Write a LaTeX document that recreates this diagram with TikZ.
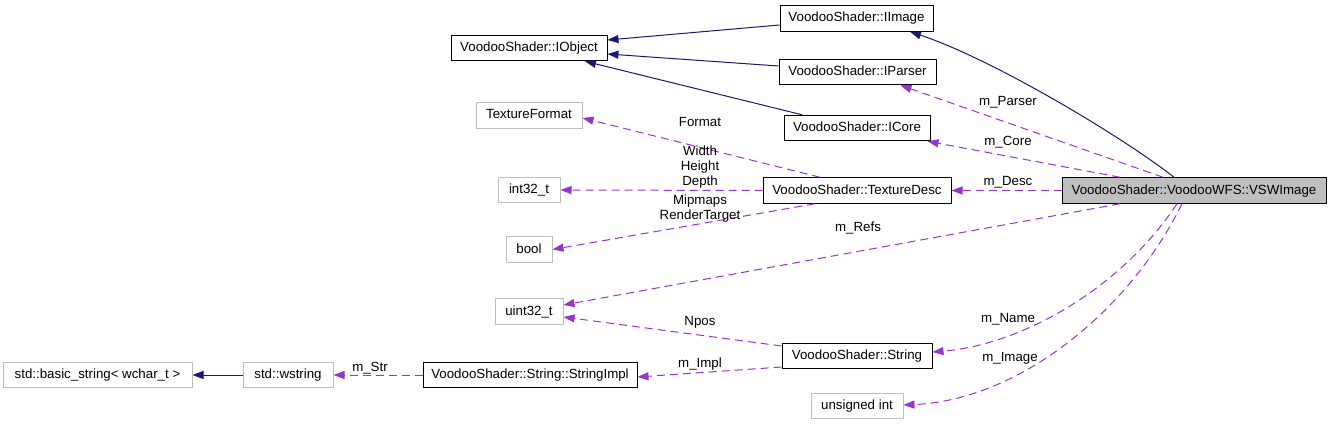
\documentclass[tikz,border=0pt]{standalone}
\usepackage{fontspec}
\setmainfont{Liberation Sans}
\usetikzlibrary{arrows.meta}
\definecolor{edgeblue}{HTML}{191970}
\definecolor{edgeviolet}{HTML}{9A32CD}
\definecolor{boxgray}{HTML}{BFBFBF}

\begin{document}
\begin{tikzpicture}[x=1pt,y=-1pt,>={Triangle[length=11pt,width=8pt]},
  font=\fontsize{13.3}{15}\selectfont,
  cls/.style={draw=black,line width=1pt,minimum height=25.5pt,inner sep=1pt,text height=10pt,text depth=3pt},
  ext/.style={cls,draw=boxgray},
  cur/.style={cls,fill=boxgray},
  inh/.style={->,edgeblue,line width=1pt},
  use/.style={->,edgeviolet,line width=1pt,dash pattern=on 8pt off 5pt},
  lbl/.style={inner sep=0pt,align=center}]
\useasboundingbox (0,0) rectangle (1331,425);
% classes
\node[cls,minimum width=153pt] (iimage) at (856.5,18.5) {VoodooShader::IImage};
\node[cls,minimum width=156pt] (iobject) at (529,48) {VoodooShader::IObject};
\node[cls,minimum width=157pt] (iparser) at (857.5,72) {VoodooShader::IParser};
\node[ext,minimum width=106pt] (texfmt) at (529,115.5) {TextureFormat};
\node[cls,minimum width=146pt] (icore) at (857,128) {VoodooShader::ICore};
\node[ext,minimum width=62pt] (int32) at (529,190) {int32\_t};
\node[cls,minimum width=188pt] (texdesc) at (857,190.5) {VoodooShader::TextureDesc};
\node[cur,minimum width=264pt] (vsw) at (1194,190.5) {VoodooShader::VoodooWFS::VSWImage};
\node[ext,minimum width=46pt] (bool) at (529,249.5) {bool};
\node[ext,minimum width=68pt] (uint32) at (529,311.5) {uint32\_t};
\node[cls,minimum width=150pt] (string) at (857,356) {VoodooShader::String};
\node[ext,minimum width=189pt] (bstr) at (97.5,375) {std::basic\_string< wchar\_t >};
\node[ext,minimum width=90pt] (wstr) at (288,375) {std::wstring};
\node[cls,minimum width=214pt] (strimpl) at (530,375) {VoodooShader::String::StringImpl};
\node[ext,minimum width=92pt] (uint) at (857,406) {unsigned int};
% inheritance
\draw[inh] ([yshift=-6.5pt]iimage.west) -- ([yshift=8pt]iobject.east);
\draw[inh] ([yshift=6pt]iparser.west) -- ([yshift=-6pt]iobject.east);
\draw[inh] ([xshift=-55pt]icore.north) -- ([xshift=56pt]iobject.south);
\draw[inh] ([xshift=-20pt]vsw.north) .. controls (1120,135) and (990,58) .. ([xshift=53.5pt]iimage.south);
\draw[inh] (wstr.west) -- (bstr.east);
% members
\draw[use] ([xshift=-31pt]vsw.north) -- ([xshift=43pt]iparser.south);
\draw[use] ([xshift=-74pt]vsw.north) -- ([xshift=-3pt]icore.south east);
\draw[use] (vsw.west) -- (texdesc.east);
\draw[use] ([xshift=-74pt]vsw.south) -- ([yshift=6.5pt]uint32.east);
\draw[use] ([xshift=-17pt]vsw.south) .. controls (1120,290) and (1020,345) .. ([yshift=4pt]string.east);
\draw[use] ([xshift=-12pt]vsw.south) .. controls (1130,310) and (1020,400) .. ([yshift=1pt]uint.east);
\draw[use] ([xshift=-37pt]texdesc.north) -- ([yshift=-2.5pt]texfmt.east);
\draw[use] (texdesc.west) -- (int32.east);
\draw[use] ([xshift=-42pt]texdesc.south) -- (bool.east);
\draw[use] ([yshift=10pt]string.west) -- ([yshift=-5.5pt]uint32.east);
\draw[use] ([yshift=-11pt]string.west) -- ([yshift=-2pt]strimpl.east);
\draw[use] (strimpl.west) -- (wstr.east);
% labels
\node[lbl] (lparser) at (1008,102) {m\_Parser};
\node[lbl] (lcore) at (1008,142) {m\_Core};
\node[lbl] (ldesc) at (1008,182) {m\_Desc};
\node[lbl] (lrefs) at (858,228) {m\_Refs};
\node[lbl] (lname) at (1008,319) {m\_Name};
\node[lbl] (limage) at (1010,358) {m\_Image};
\node[lbl] (lformat) at (700,122) {Format};
\node[lbl] (lwhd) at (700,167) {Width\\Height\\Depth};
\node[lbl] (lmip) at (700,208.5) {Mipmaps\\RenderTarget};
\node[lbl] (lnpos) at (700,322) {Npos};
\node[lbl] (limpl) at (700,364) {m\_Impl};
\node[lbl] (lstr) at (370,368) {m\_Str};
\end{tikzpicture}
\end{document}
